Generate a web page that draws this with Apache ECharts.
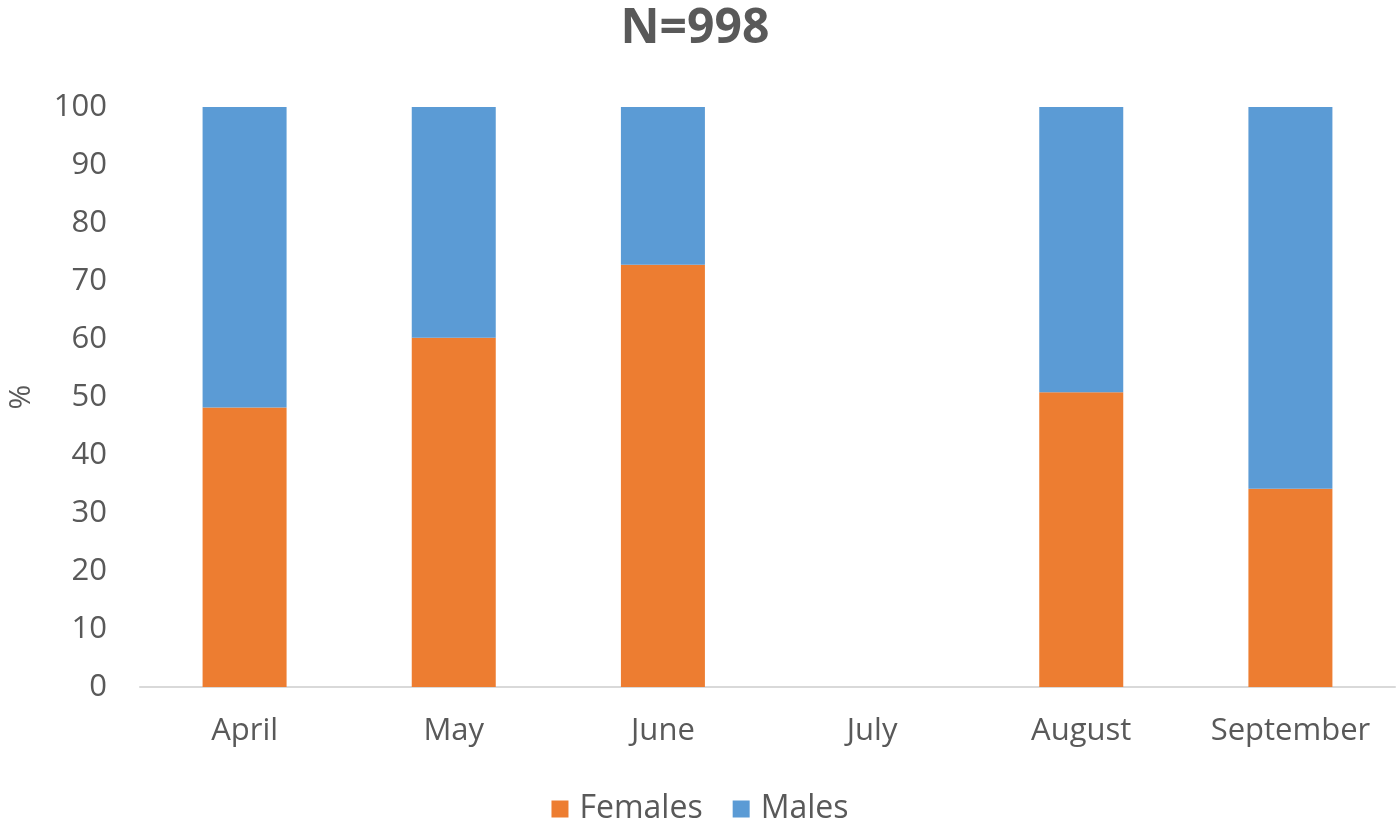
<!DOCTYPE html>
<html><head><meta charset="utf-8">
<script src="https://cdn.jsdelivr.net/npm/echarts@6/dist/echarts.min.js"></script>
<style>html,body{margin:0;padding:0;background:#fff}#c{width:1400px;height:830px}</style>
</head><body><div id="c"></div>
<script>
const categories = ['April','May','June','July','August','September'];
const females = [48.2, 60.2, 72.8, 0, 50.8, 34.2];
const males = [51.8, 39.8, 27.2, 0, 49.2, 65.8];
const yTicks = {min: 0, max: 100, interval: 10};
const font = '"Open Sans", "Liberation Sans", sans-serif';
const chart = echarts.init(document.getElementById('c'));
chart.setOption({
  animation: false,
  title: {text: 'N=998', left: 690, top: 0, textAlign: 'center',
    textStyle: {fontFamily: font, fontSize: 48, fontWeight: 'bold', color: '#595959'}},
  legend: {bottom: 0, left: 'center', itemWidth: 17, itemHeight: 17, itemGap: 30,
    icon: 'rect', textStyle: {fontFamily: font, fontSize: 32, color: '#595959', padding: [0, 0, 0, 6]},
    data: ['Females','Males']},
  grid: {left: 140, right: 5, top: 107, bottom: 143, containLabel: false, outerBoundsMode: 'none'},
  xAxis: {type: 'category', data: categories,
    axisLine: {lineStyle: {color: '#d9d9d9', width: 2}}, axisTick: {show: false},
    axisLabel: {fontFamily: font, fontSize: 31, color: '#595959', margin: 29}},
  yAxis: {type: 'value', min: yTicks.min, max: yTicks.max, interval: yTicks.interval,
    name: '%', nameLocation: 'middle', nameGap: 104, nameRotate: 90,
    nameTextStyle: {fontFamily: font, fontSize: 30, color: '#595959'},
    splitLine: {show: false}, axisLine: {show: false}, axisTick: {show: false},
    axisLabel: {fontFamily: font, fontSize: 31, color: '#595959', margin: 33}},
  series: [
    {name: 'Females', type: 'bar', stack: 's', data: females, barWidth: 84,
      itemStyle: {color: '#ED7D31'}},
    {name: 'Males', type: 'bar', stack: 's', data: males, barWidth: 84,
      itemStyle: {color: '#5B9BD5'}}
  ]
});
</script></body></html>
